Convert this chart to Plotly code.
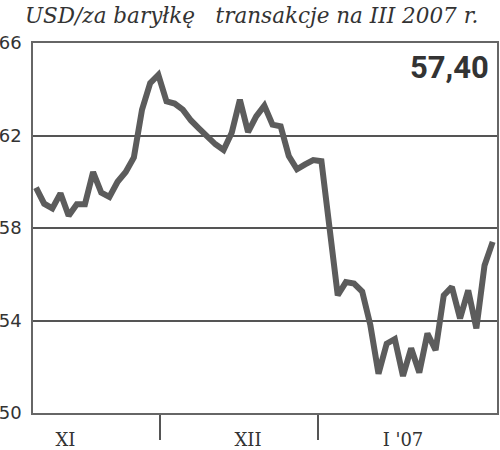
import plotly.graph_objects as go

# trading-session index and USD/barrel prices (March 2007 contract)
prices = [59.75, 59.05, 58.85, 59.50, 58.53, 59.03, 59.03, 60.42, 59.53, 59.34,
          60.00, 60.42, 61.05, 63.12, 64.27, 64.62, 63.48, 63.38, 63.12, 62.65,
          62.30, 61.95, 61.62, 61.37, 62.12, 63.55, 62.15, 62.83, 63.29, 62.47,
          62.40, 61.11, 60.54, 60.75, 60.94, 60.89, 58.00, 55.09, 55.66, 55.60,
          55.25, 53.80, 51.70, 53.00, 53.20, 51.60, 52.80, 51.75, 53.44, 52.72,
          55.09, 55.45, 54.09, 55.30, 53.66, 56.38, 57.40]
sessions = list(range(len(prices)))

month_labels = ["XI", "XII", "I '07"]
month_label_pos = [3.6, 26.0, 45.0]
month_boundaries = [15.2, 34.6]
y_ticks = [50, 54, 58, 62, 66]
last_value_text = "57,40"
title_text = "USD/za baryłkę\u00a0\u00a0 transakcje na III 2007 r."

fig = go.Figure()
fig.add_trace(go.Scatter(
    x=sessions, y=prices, mode="lines",
    line=dict(color="#5c5c5c", width=6, shape="linear"),
    hoverinfo="skip", showlegend=False,
))

fig.update_layout(
    width=500, height=450,
    margin=dict(l=33, r=3, t=43, b=37, autoexpand=False),
    paper_bgcolor="white", plot_bgcolor="white",
    title=dict(text=title_text, x=0.05, xanchor="left", xref="container",
               y=1 - 15 / 450, yanchor="middle", yref="container", automargin=False,
               font=dict(family="DejaVu Serif", size=21.5, color="#333333", style="italic")),
    xaxis=dict(
        range=[-0.37, 56.53], showgrid=False, zeroline=False, automargin=False,
        tickmode="array", tickvals=month_label_pos, ticktext=month_labels,
        ticks="", ticklabelstandoff=10,
        tickfont=dict(family="DejaVu Serif", size=18, color="#333333"),
        showline=True, linecolor="#666666", linewidth=1.5, mirror=True,
        minor=dict(tickmode="array", tickvals=month_boundaries, ticks="outside",
                   ticklen=25, tickwidth=1.5, tickcolor="#555555", showgrid=False),
    ),
    yaxis=dict(
        range=[50, 66], tickmode="array", tickvals=y_ticks, automargin=False,
        showgrid=True, gridcolor="#555555", gridwidth=1.5, zeroline=False,
        ticks="", ticklabelstandoff=6,
        tickfont=dict(family="DejaVu Sans", size=18, color="#333333"),
        showline=True, linecolor="#666666", linewidth=1.5, mirror=True,
    ),
    annotations=[dict(
        text=last_value_text, xref="paper", yref="paper", x=1, y=1 - (67.5 - 43) / 370,
        xanchor="right", yanchor="middle", xshift=-6, showarrow=False,
        font=dict(family="Roboto", size=31, color="#333333", weight="bold"),
    )],
)

fig.write_html("out.html", config={"displayModeBar": False},
               post_script="document.body.style.margin='0';document.body.style.overflow='hidden';")
